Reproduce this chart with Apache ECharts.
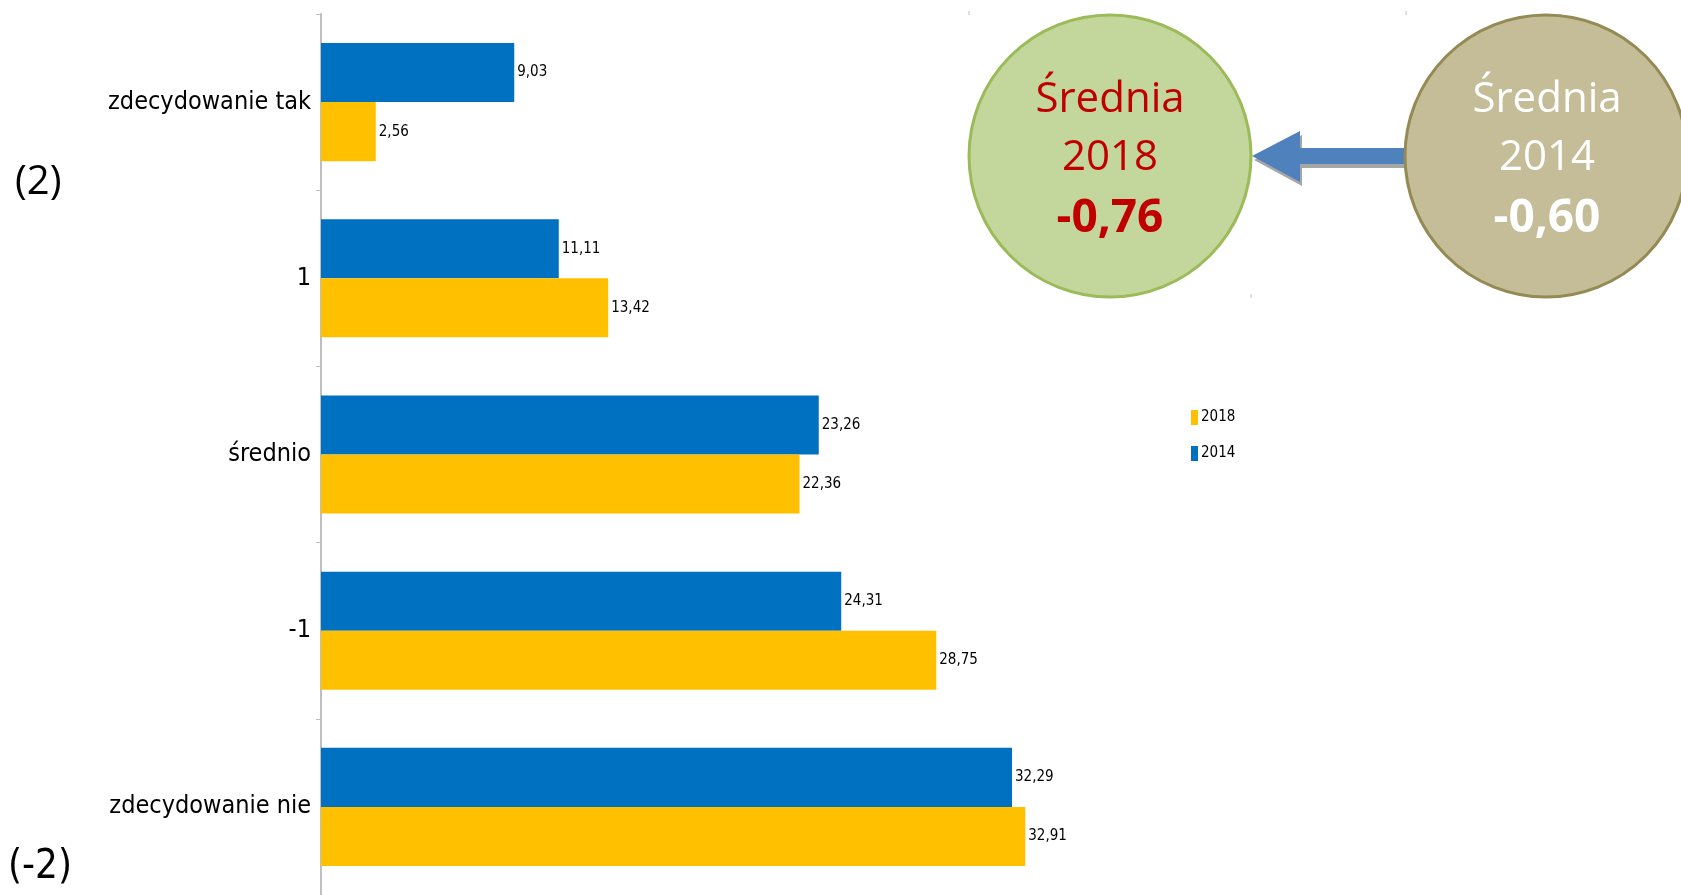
<!DOCTYPE html>
<html>
<head>
<meta charset="utf-8">
<script src="https://cdn.jsdelivr.net/npm/echarts@6/dist/echarts.min.js"></script>
<style>
html,body{margin:0;padding:0;background:#fff;}
#chart{width:1681px;height:895px;}
</style>
</head>
<body>
<div id="chart"></div>
<script>
var categories = ['zdecydowanie tak', '1', 'średnio', '-1', 'zdecydowanie nie'];
var values2014 = [9.03, 11.11, 23.26, 24.31, 32.29];
var values2018 = [2.56, 13.42, 22.36, 28.75, 32.91];
var seriesNames = ['2014', '2018'];
var legendOrder = ['2018', '2014'];
var sideLabels = ['(2)', '(-2)'];
var avg2018 = ['Średnia', '2018', '-0,76'];
var avg2014 = ['Średnia', '2014', '-0,60'];

var NARROW = '"Liberation Sans Narrow", "DejaVu Sans Condensed", "Liberation Sans", sans-serif';
var BLUE = '#0070c0', YELLOW = '#ffc000';

function fmt(p) { return p.value.toFixed(2).replace('.', ','); }

var chart = echarts.init(document.getElementById('chart'));
chart.setOption({
  backgroundColor: '#ffffff',
  animation: false,
  grid: { left: 321, top: 14, width: 1070, height: 885, containLabel: false },
  legend: {
    orient: 'vertical',
    left: 1186, top: 405,
    data: legendOrder,
    itemWidth: 7, itemHeight: 15, itemGap: 21,
    icon: 'rect',
    textStyle: { fontFamily: NARROW, fontSize: 15, color: '#000', padding: [0,0,0,-2] }
  },
  xAxis: { type: 'value', min: 0, max: 50, show: false },
  yAxis: {
    type: 'category', data: categories, inverse: true,
    axisLine: { show: true, lineStyle: { color: '#bfbfbf', width: 2 } },
    axisTick: { show: true, length: 5, lineStyle: { color: '#bfbfbf', width: 1 } },
    axisLabel: { fontFamily: NARROW, fontSize: 25, color: '#000', margin: 10 },
    splitLine: { show: false }
  },
  series: [
    { name: seriesNames[0], type: 'bar', data: values2014, itemStyle: { color: BLUE },
      barGap: '0%', barCategoryGap: '33%',
      label: { show: true, position: 'right', distance: 3, formatter: fmt,
               fontFamily: NARROW, fontSize: 15, color: '#000' } },
    { name: seriesNames[1], type: 'bar', data: values2018, itemStyle: { color: YELLOW },
      barGap: '0%', barCategoryGap: '33%',
      label: { show: true, position: 'right', distance: 3, formatter: fmt,
               fontFamily: NARROW, fontSize: 15, color: '#000' } }
  ],
  graphic: [
    { type: 'text', left: 15, top: 163, style: { text: sideLabels[0], font: '40px "Open Sans", sans-serif', fill: '#000' } },
    { type: 'text', left: 8, top: 848, style: { text: sideLabels[1], font: '40px ' + NARROW, fill: '#000' } },
    // arrow shadow
    { type: 'polygon', z: 10, shape: { points: [[1254,160],[1302,135],[1302,152],[1408,152],[1408,168],[1302,168],[1302,186]] },
      style: { fill: '#a6a6a6' } },
    // arrow
    { type: 'polygon', z: 11, shape: { points: [[1252,156],[1300,131],[1300,148],[1408,148],[1408,164],[1300,164],[1300,182]] },
      style: { fill: '#4f81bd' } },
    // green circle
    { type: 'circle', z: 12, shape: { cx: 1110, cy: 156, r: 141 },
      style: { fill: '#c3d69b', stroke: '#9bbb59', lineWidth: 3 } },
    { type: 'text', z: 13, x: 1110, y: 100, style: { text: avg2018[0], font: '42px "Open Sans", sans-serif', fill: '#c00000', textAlign: 'center', textVerticalAlign: 'middle' } },
    { type: 'text', z: 13, x: 1110, y: 158, style: { text: avg2018[1], font: '42px "Open Sans", sans-serif', fill: '#c00000', textAlign: 'center', textVerticalAlign: 'middle' } },
    { type: 'text', z: 13, x: 1110, y: 219, style: { text: avg2018[2], font: 'bold 46px "Open Sans", sans-serif', fill: '#c00000', textAlign: 'center', textVerticalAlign: 'middle' } },
    // tan circle
    { type: 'circle', z: 12, shape: { cx: 1546, cy: 156, r: 141 },
      style: { fill: '#c4bd97', stroke: '#948a54', lineWidth: 3 } },
    { type: 'text', z: 13, x: 1547, y: 100, style: { text: avg2014[0], font: '42px "Open Sans", sans-serif', fill: '#ffffff', textAlign: 'center', textVerticalAlign: 'middle' } },
    { type: 'text', z: 13, x: 1547, y: 158, style: { text: avg2014[1], font: '42px "Open Sans", sans-serif', fill: '#ffffff', textAlign: 'center', textVerticalAlign: 'middle' } },
    { type: 'text', z: 13, x: 1547, y: 219, style: { text: avg2014[2], font: 'bold 46px "Open Sans", sans-serif', fill: '#ffffff', textAlign: 'center', textVerticalAlign: 'middle' } },
    // small marks
    { type: 'line', shape: { x1: 969, y1: 11, x2: 969, y2: 15 }, style: { stroke: '#bfbfbf', lineWidth: 1 } },
    { type: 'line', shape: { x1: 1406, y1: 11, x2: 1406, y2: 15 }, style: { stroke: '#bfbfbf', lineWidth: 1 } },
    { type: 'line', shape: { x1: 1251, y1: 294, x2: 1251, y2: 298 }, style: { stroke: '#bfbfbf', lineWidth: 1 } }
  ]
});
</script>
</body>
</html>
